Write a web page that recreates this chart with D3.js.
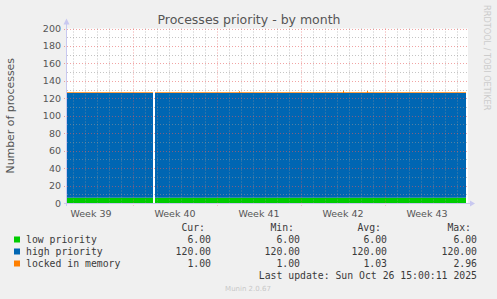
<!DOCTYPE html>
<html>
<head>
<meta charset="utf-8">
<script src="https://cdn.jsdelivr.net/npm/d3@7"></script>
<style>
  html, body { margin: 0; padding: 0; background: #f0f0f0; }
  svg { display: block; }
</style>
</head>
<body>
<div id="chart"></div>
<script>
// sample times (UTC) and values; null = no data
const times = [
    "2025-09-23T12:00:00Z", "2025-09-30T16:00:00Z", "2025-09-30T17:00:00Z",
    "2025-09-30T20:00:00Z", "2025-10-07T20:00:00Z", "2025-10-07T22:00:00Z",
    "2025-10-16T12:00:00Z", "2025-10-16T14:00:00Z", "2025-10-18T12:00:00Z",
    "2025-10-18T14:00:00Z", "2025-10-26T18:00:00Z"
];
const lowPriority  = [6, 6, null, 6, 6, 6, 6, 6, 6, 6, 6];
const highPriority = [120, 120, null, 120, 120, 120, 120, 120, 120, 120, 120];
const lockedMem    = [1, 1, null, 1, 2.2, 1, 2.96, 1, 2.4, 1, 1];

const seriesNames  = ["low priority", "high priority", "locked in memory"];
const seriesKeys   = ["low", "high", "locked"];
const seriesColors = ["#00cc00", "#0066b3", "#ff8000"];
const curVals = ["6.00", "120.00", "1.00"];
const minVals = ["6.00", "120.00", "1.00"];
const avgVals = ["6.00", "120.00", "1.03"];
const maxVals = ["6.00", "120.00", "2.96"];
const yTicks = [0, 20, 40, 60, 80, 100, 120, 140, 160, 180, 200];

const W = 497, H = 299;
const plotL = 67, plotR = 466, plotT = 28.5, plotB = 203;

const svg = d3.select("#chart").append("svg")
    .attr("width", W).attr("height", H);

svg.append("rect").attr("width", W).attr("height", H).attr("fill", "#f0f0f0");

const x = d3.scaleUtc()
    .domain([new Date("2025-09-23T12:00:00Z"), new Date("2025-10-26T18:00:00Z")])
    .range([plotL, plotR]);
const y = d3.scaleLinear().domain([0, 200]).range([plotB, plotT]);

// plot background
svg.append("rect")
    .attr("x", plotL).attr("y", plotT)
    .attr("width", plotR - plotL + 2).attr("height", plotB - plotT)
    .attr("fill", "#ffffff");

const rows = times.map((t, i) => ({
    date: new Date(t),
    low: lowPriority[i],
    high: highPriority[i],
    locked: lockedMem[i]
}));

const stack = d3.stack()
    .keys(seriesKeys)
    .value((d, k) => d[k] == null ? 0 : d[k]);
const layers = stack(rows);

const area = d3.area()
    .defined(d => d.data.low != null)
    .curve(d3.curveStepAfter)
    .x(d => x(d.data.date))
    .y0(d => y(d[0]))
    .y1(d => y(d[1]));

svg.append("g").selectAll("path")
    .data(layers)
    .enter()
    .append("path")
    .attr("d", area)
    .attr("fill", (d, i) => seriesColors[i]);

// grid lines (drawn on top like rrdtool)
const grid = svg.append("g");
const days = d3.utcDay.range(x.domain()[0], x.domain()[1]);
grid.selectAll(".vminor")
    .data(days.filter(d => d.getUTCDay() !== 1))
    .enter().append("line")
    .attr("x1", d => Math.round(x(d)) + 0.5).attr("x2", d => Math.round(x(d)) + 0.5)
    .attr("y1", plotT).attr("y2", plotB + 2)
    .attr("stroke", "rgba(150,150,150,0.55)")
    .attr("stroke-dasharray", "1,2");

const mondays = d3.utcMonday.range(x.domain()[0], x.domain()[1]);
grid.selectAll(".vmajor")
    .data(mondays)
    .enter().append("line")
    .attr("x1", d => Math.round(x(d)) + 0.5).attr("x2", d => Math.round(x(d)) + 0.5)
    .attr("y1", plotT).attr("y2", plotB + 3)
    .attr("stroke", "rgba(230,90,90,0.55)")
    .attr("stroke-dasharray", "1,2");

const minorY = d3.range(10, 200, 20);
grid.selectAll(".hminor")
    .data(minorY)
    .enter().append("line")
    .attr("x1", plotL).attr("x2", plotR + 2)
    .attr("y1", d => Math.round(y(d)) + 0.5).attr("y2", d => Math.round(y(d)) + 0.5)
    .attr("stroke", "rgba(150,150,150,0.55)")
    .attr("stroke-dasharray", "1,2");

grid.selectAll(".hmajor")
    .data(yTicks.filter(d => d > 0))
    .enter().append("line")
    .attr("x1", plotL - 3).attr("x2", plotR + 2)
    .attr("y1", d => Math.round(y(d)) + 0.5).attr("y2", d => Math.round(y(d)) + 0.5)
    .attr("stroke", "rgba(230,90,90,0.55)")
    .attr("stroke-dasharray", "1,2");

// axes with arrows
const axisCol = "#c8c8f0";
svg.append("line").attr("x1", plotL - 0.5).attr("x2", plotL - 0.5)
    .attr("y1", plotB + 3).attr("y2", plotT - 6)
    .attr("stroke", axisCol);
svg.append("path")
    .attr("d", `M${plotL - 3.5},${plotT - 4} L${plotL - 0.5},${plotT - 10} L${plotL + 2.5},${plotT - 4} Z`)
    .attr("fill", axisCol);
svg.append("line").attr("x1", plotL - 3).attr("x2", plotR + 4)
    .attr("y1", plotB + 0.5).attr("y2", plotB + 0.5)
    .attr("stroke", axisCol);
svg.append("path")
    .attr("d", `M${plotR + 4},${plotB - 2.5} L${plotR + 9},${plotB + 0.5} L${plotR + 4},${plotB + 3.5} Z`)
    .attr("fill", axisCol);

// y tick labels
svg.append("g").selectAll("text")
    .data(yTicks)
    .enter().append("text")
    .attr("x", plotL - 6)
    .attr("y", d => y(d) + 3.5)
    .attr("text-anchor", "end")
    .attr("font-family", "DejaVu Sans")
    .attr("font-size", 9.5)
    .attr("fill", "#555")
    .text(d => d);

// x week labels centered mid-week
const weekStarts = d3.utcMonday.range(d3.utcMonday.floor(x.domain()[0]), x.domain()[1]);
const fmtWeek = d3.utcFormat("%V");
svg.append("g").selectAll("text")
    .data(weekStarts)
    .enter().append("text")
    .attr("x", d => x(d3.utcHour.offset(d, 84)))
    .attr("y", plotB + 14)
    .attr("text-anchor", "middle")
    .attr("font-family", "DejaVu Sans")
    .attr("font-size", 9.5)
    .attr("fill", "#555")
    .text(d => "Week " + +fmtWeek(d));

// title
svg.append("text")
    .attr("x", 249).attr("y", 24)
    .attr("text-anchor", "middle")
    .attr("font-family", "DejaVu Sans")
    .attr("font-size", 12.5)
    .attr("fill", "#555")
    .text("Processes priority - by month");

// y label
svg.append("text")
    .attr("transform", `translate(14,${(plotT + plotB) / 2}) rotate(-90)`)
    .attr("text-anchor", "middle")
    .attr("font-family", "DejaVu Sans")
    .attr("font-size", 10.9)
    .attr("fill", "#555")
    .text("Number of processes");

// rrdtool credit
svg.append("text")
    .attr("transform", "translate(484,5) rotate(90)")
    .attr("font-family", "DejaVu Sans")
    .attr("font-size", 8.2)
    .attr("fill", "#cccccc")
    .text("RRDTOOL / TOBI OETIKER");

// legend
const mono = "DejaVu Sans Mono";
const legend = svg.append("g")
    .attr("font-family", mono)
    .attr("font-size", 9.8)
    .attr("fill", "#3a3a3a");

const colEnds = [211, 300, 387, 477];
const headers = ["Cur:", "Min:", "Avg:", "Max:"];
legend.selectAll(".hdr")
    .data(headers)
    .enter().append("text")
    .attr("x", (d, i) => colEnds[i] - 6)
    .attr("y", 231)
    .attr("text-anchor", "end")
    .text(d => d);

const rowY = [243, 255, 267];
seriesNames.forEach((name, i) => {
    legend.append("rect")
        .attr("x", 14).attr("y", rowY[i] - 6.5)
        .attr("width", 6).attr("height", 6)
        .attr("fill", seriesColors[i]);
    legend.append("text")
        .attr("x", 26).attr("y", rowY[i])
        .text(name);
    [curVals, minVals, avgVals, maxVals].forEach((vals, j) => {
        legend.append("text")
            .attr("x", colEnds[j]).attr("y", rowY[i])
            .attr("text-anchor", "end")
            .text(vals[i]);
    });
});

legend.append("text")
    .attr("x", 477).attr("y", 279)
    .attr("text-anchor", "end")
    .text("Last update: Sun Oct 26 15:00:11 2025");

svg.append("text")
    .attr("x", 248).attr("y", 291)
    .attr("text-anchor", "middle")
    .attr("font-family", "DejaVu Sans")
    .attr("font-size", 7)
    .attr("fill", "#c8c8c8")
    .text("Munin 2.0.67");
</script>
</body>
</html>
